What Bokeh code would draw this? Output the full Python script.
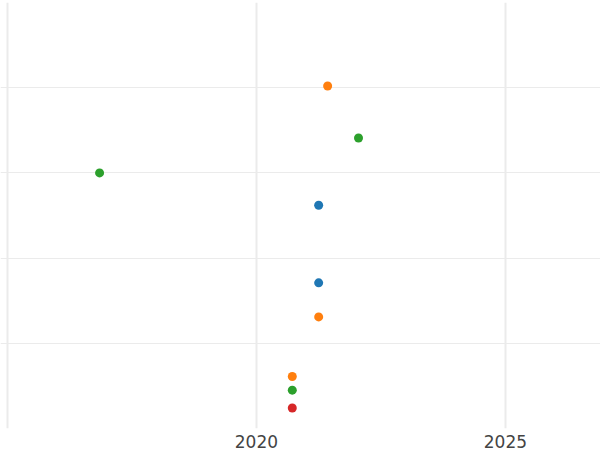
from bokeh.plotting import figure
from bokeh.models import FixedTicker, Range1d, ColumnDataSource
from bokeh.embed import file_html
from bokeh.resources import INLINE

# data
years = [2021.43, 2022.05, 2016.85, 2021.25, 2021.25, 2021.25, 2020.72, 2020.72, 2020.72]
values = [40.2, 34.1, 30.0, 26.2, 17.1, 13.1, 6.1, 4.5, 2.4]
colors = ["#ff7f0e", "#2ca02c", "#2ca02c", "#1f77b4", "#1f77b4", "#ff7f0e", "#ff7f0e", "#2ca02c", "#d62728"]
x_ticks = [2015, 2020, 2025]
x_tick_labels = {2015: "", 2020: "2020", 2025: "2025"}
y_ticks = [0, 10, 20, 30, 40, 50]

p = figure(width=600, height=450, output_backend="svg", toolbar_location=None,
           x_range=Range1d(2014.86, 2026.91), y_range=Range1d(0, 50),
           min_border_left=0, min_border_right=0, min_border_top=2, min_border_bottom=0)
p.outline_line_color = None
p.background_fill_color = "white"

src = ColumnDataSource(dict(x=years, y=values, c=colors))
p.scatter("x", "y", source=src, size=9, color="c", line_color=None)

p.xaxis.ticker = FixedTicker(ticks=x_ticks)
p.xaxis.major_label_overrides = x_tick_labels
p.xaxis.axis_line_color = None
p.xaxis.major_tick_line_color = None
p.xaxis.minor_tick_line_color = None
p.xaxis.major_label_text_font = "DejaVu Sans"
p.xaxis.major_label_text_font_size = "17px"
p.xaxis.major_label_text_color = "#444444"
p.xaxis.major_label_standoff = 0

p.yaxis.visible = False
p.ygrid.ticker = FixedTicker(ticks=y_ticks)
p.xgrid.grid_line_color = "#ebebeb"
p.ygrid.grid_line_color = "#ebebeb"
p.xgrid.grid_line_width = 2
p.ygrid.grid_line_width = 1

open("out.html", "w").write(file_html(p, INLINE))
